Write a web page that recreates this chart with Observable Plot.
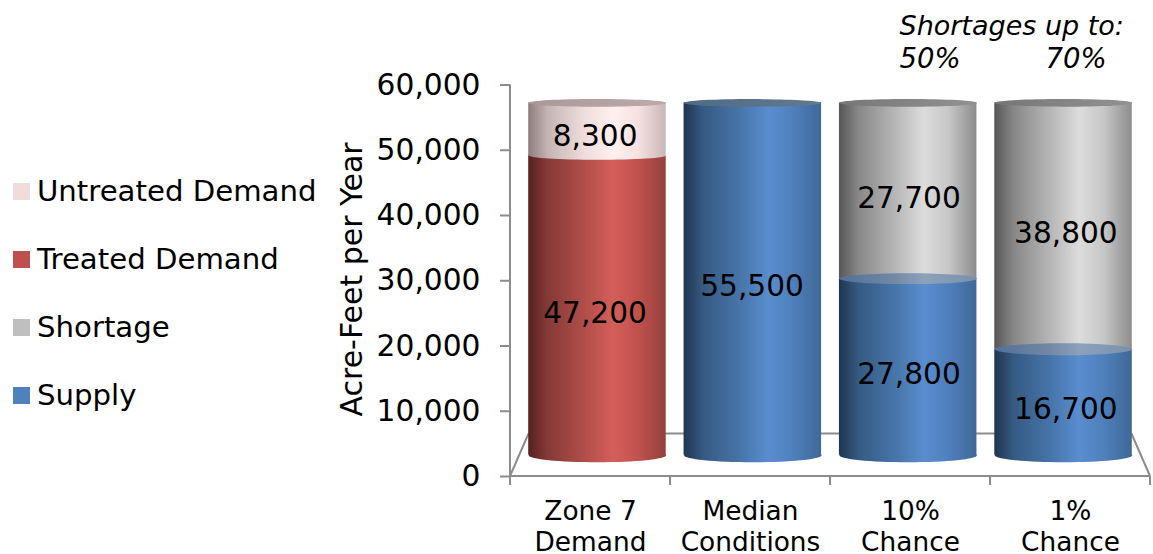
<!DOCTYPE html>
<html>
<head>
<meta charset="utf-8">
<script src="https://cdn.jsdelivr.net/npm/d3@7"></script>
<script src="https://cdn.jsdelivr.net/npm/@observablehq/plot@0.6"></script>
<style>
  html, body { margin: 0; background: #fff; }
  #chart { position: relative; width: 1153px; height: 554px; overflow: hidden;
           font-family: "DejaVu Sans", sans-serif; color: #000; }
  #chart svg { position: absolute; left: 0; top: 0; }
  .legend-row { position: absolute; left: 13px; display: flex; align-items: center;
                font-size: 29.2px; line-height: 34px; height: 34px; white-space: nowrap; }
  .legend-row i { display: block; width: 17px; height: 17px; margin-right: 7px; }
</style>
</head>
<body>
<div id="chart"></div>
<script>
// Water supply reliability, in acre-feet per year
const categories = ["Zone 7\nDemand", "Median\nConditions", "10%\nChance", "1%\nChance"];
const treatedDemand = [47200, 0, 0, 0];
const untreatedDemand = [8300, 0, 0, 0];
const supply = [0, 55500, 27800, 16700];
const shortage = [0, 0, 27700, 38800];
const yTicks = [0, 10000, 20000, 30000, 40000, 50000, 60000];
const shortageShares = [["10%\nChance", "50%"], ["1%\nChance", "70%"]];

const legendItems = [
  ["Untreated Demand", "#f2dcdb"],
  ["Treated Demand", "#c0504d"],
  ["Shortage", "#bfbfbf"],
  ["Supply", "#4f81bd"]
];

const plotWidth = 1153, plotHeight = 554;
const frameLeft = 510, frameRight = 1150, frameTop = 84.5, frameFloor = 476;
const bandPadding = 0.115;
const bandStep = (frameRight - frameLeft) / categories.length;
const halfBar = bandStep * (1 - bandPadding) / 2;

// Stack the segments of each column, lowest first
const seriesOf = [
  ["Treated Demand", treatedDemand],
  ["Supply", supply],
  ["Shortage", shortage],
  ["Untreated Demand", untreatedDemand]
];
const rows = [];
categories.forEach((category, i) => {
  let base = 0;
  const stack = seriesOf.filter(([, values]) => values[i] > 0);
  stack.forEach(([series, values], j) => {
    const value = values[i];
    rows.push({category, series, value, base, top: base + value, last: j === stack.length - 1});
    base += value;
  });
});

const sideFill = {
  "Treated Demand": "url(#treated)",
  "Untreated Demand": "url(#untreated)",
  "Supply": "url(#blue)",
  "Shortage": "url(#gray)"
};
const upperFill = {
  "Treated Demand": "url(#untreated)",
  "Untreated Demand": "url(#untreatedTop)",
  "Supply": "url(#blueLid)",
  "Shortage": "url(#grayTop)"
};
const capFill = (d) => d.last && d.series === "Supply" ? "url(#blueTop)" : upperFill[d.series];

// Gradients for the shaded cylinder sides
const ramps = {
  treated: [[0, "#55211f"], [0.14, "#853a37"], [0.4, "#b04d49"], [0.62, "#d45f5a"], [0.8, "#c0514d"], [1, "#95403d"]],
  untreated: [[0, "#8c7c7c"], [0.14, "#c4b4b4"], [0.4, "#eedcdc"], [0.62, "#fff0ef"], [0.8, "#f5e1e0"], [1, "#c9b6b6"]],
  blue: [[0, "#1e3550"], [0.14, "#365a83"], [0.4, "#4674a8"], [0.62, "#5a8dcf"], [0.8, "#4f7fbb"], [1, "#3e6897"]],
  gray: [[0, "#565656"], [0.14, "#878787"], [0.4, "#b5b5b5"], [0.62, "#dcdcdc"], [0.8, "#c6c6c6"], [1, "#8c8c8c"]],
  blueLid: [[0, "#4f7097"], [0.4, "#7289a6"], [0.62, "#8da1ba"], [1, "#7990ab"]],
  blueTop: [[0, "#4f6a88"], [1, "#64798f"]],
  grayTop: [[0, "#767676"], [1, "#929292"]],
  untreatedTop: [[0, "#ab9898"], [1, "#bcaaaa"]]
};
const svgNS = "http://www.w3.org/2000/svg";
const defsMark = () => {
  const defs = document.createElementNS(svgNS, "defs");
  for (const [id, stops] of Object.entries(ramps)) {
    const g = document.createElementNS(svgNS, "linearGradient");
    g.setAttribute("id", id);
    for (const [offset, color] of stops) {
      const s = document.createElementNS(svgNS, "stop");
      s.setAttribute("offset", offset);
      s.setAttribute("stop-color", color);
      g.appendChild(s);
    }
    defs.appendChild(g);
  }
  return defs;
};

// Perspective: plane at a given depth, 0 at the front of the floor and 1 at its back
const depthRise = 42.5, shrinkX = 0.058, shrinkY = 0.054;
const centreX = (frameLeft + frameRight) / 2;
const planeTransform = (zx, zy) => {
  const sx = 1 - shrinkX * zx, sy = 1 - shrinkY * zy;
  return `translate(${centreX} ${frameFloor - depthRise * zy}) scale(${sx} ${sy}) translate(${-centreX} ${-frameFloor})`;
};
const inPlane = (zx, zy = zx) => (index, scales, values, dimensions, context, next) => {
  const inner = next(index, scales, values, dimensions, context);
  const g = document.createElementNS(svgNS, "g");
  g.setAttribute("transform", planeTransform(zx, zy));
  g.appendChild(inner);
  return g;
};

// Elliptical symbol for the round ends of the cylinders
const ellipse = (rx, ry) => ({
  draw(ctx) {
    const k = 0.5523;
    ctx.moveTo(-rx, 0);
    ctx.bezierCurveTo(-rx, -ry * k, -rx * k, -ry, 0, -ry);
    ctx.bezierCurveTo(rx * k, -ry, rx, -ry * k, rx, 0);
    ctx.bezierCurveTo(rx, ry * k, rx * k, ry, 0, ry);
    ctx.bezierCurveTo(-rx * k, ry, -rx, ry * k, -rx, 0);
    ctx.closePath();
  }
});
const lidRadius = (v) => 7.2 - v * 0.00006;
const endDot = (row, y, fill) => Plot.dot([row], {
  x: "category", y, r: 1, fill, stroke: "none",
  symbol: ellipse(halfBar, lidRadius(row[y])),
  render: inPlane(0.5)
});

// Floor outline, value axis line and category tick marks
const frameMark = (index, {x, y}) => {
  const g = document.createElementNS(svgNS, "g");
  g.setAttribute("fill", "none");
  g.setAttribute("stroke", "#8c8c8c");
  g.setAttribute("stroke-width", "2");
  const y0 = y(0), back = y0 - depthRise, sx = 1 - shrinkX;
  const bl = centreX + (frameLeft - centreX) * sx, br = centreX + (frameRight - centreX) * sx;
  const edges = [`M${frameLeft},${y0}L${frameRight},${y0}`, `M${bl},${back}L${br},${back}`,
                 `M${frameLeft},${y0}L${bl},${back}`, `M${frameRight},${y0}L${br},${back}`,
                 `M${frameLeft},${y0}L${frameLeft},${y(60000)}`];
  const step = x.bandwidth();
  [...x.domain().map((c) => x(c)), x(categories[categories.length - 1]) + step].forEach((px) => {
    edges.push(`M${px},${y0}L${px},${y0 + 9}`);
  });
  const p = document.createElementNS(svgNS, "path");
  p.setAttribute("d", edges.join(""));
  g.appendChild(p);
  return g;
};

const plot = Plot.plot({
  width: plotWidth, height: plotHeight,
  marginLeft: frameLeft, marginRight: plotWidth - frameRight,
  marginTop: frameTop, marginBottom: plotHeight - frameFloor,
  style: {fontFamily: '"DejaVu Sans", sans-serif', background: "transparent", color: "#000"},
  x: {type: "band", domain: categories, padding: 0, axis: null},
  y: {domain: [0, 60000], axis: null},
  marks: [
    defsMark,
    frameMark,
    Plot.axisY({
      ticks: yTicks, tickFormat: d3.format(","), tickSize: 10, tickPadding: 20,
      stroke: "#8c8c8c", strokeWidth: 2, fill: "#000", fontSize: 29.7, label: null
    }),
    Plot.text(["Acre-Feet per Year"], {
      frameAnchor: "left", dx: -158, y: 30200, rotate: -90, textAnchor: "middle",
      fontSize: 30, text: (d) => d, fill: "#000"
    }),
    // Rounded undersides, then the column sides
    ...rows.filter((d) => d.base === 0).map((d) => Plot.dot([d], {
      x: "category", y: "base", r: 1, stroke: "none", fill: sideFill[d.series],
      symbol: ellipse(halfBar, lidRadius(0)), render: inPlane(0.5)
    })),
    ...rows.map((d) => Plot.barY([d], {
      x: "category", y1: "base", y2: "top", fill: sideFill[d.series],
      insetLeft: bandPadding * bandStep / 2, insetRight: bandPadding * bandStep / 2, render: inPlane(0.5)
    })),
    // Lids where one segment meets the next, and at the column tops
    ...rows.map((d) => endDot(d, "top", capFill(d))),
    Plot.text(rows, {
      x: "category", y: (d) => (d.base + d.top) / 2, dy: 8,
      text: (d) => d3.format(",")(d.value), fontSize: 30.2, fill: "#000", render: inPlane(0.33, 0.5)
    }),
    // Category labels beneath the floor
    Plot.text(categories, {
      x: (d) => d, y: 0, dy: 20.5, lineAnchor: "top", lineHeight: 1.2,
      text: (d) => d, fontSize: 26.4, fill: "#000"
    }),
    // Note above the two dry-year columns
    Plot.text(["Shortages up to:"], {
      x: () => categories[2], y: 0, dy: -450, dx: -11, textAnchor: "start",
      text: (d) => d, fontSize: 27, fontStyle: "italic", fill: "#000"
    }),
    Plot.text(shortageShares.slice(0, 1), {
      x: (d) => d[0], y: 0, dy: -417, dx: -11, textAnchor: "start",
      text: (d) => d[1], fontSize: 27.5, fontStyle: "italic", fill: "#000"
    }),
    Plot.text(shortageShares.slice(1), {
      x: (d) => d[0], y: 0, dy: -417, dx: -25, textAnchor: "start",
      text: (d) => d[1], fontSize: 27.5, fontStyle: "italic", fill: "#000"
    })
  ]
});

const chart = document.getElementById("chart");
chart.appendChild(plot);

// Legend beside the chart
legendItems.forEach(([label, color], i) => {
  const row = document.createElement("div");
  row.className = "legend-row";
  row.style.top = `${174 + i * 68}px`;
  const swatch = document.createElement("i");
  swatch.style.background = color;
  row.appendChild(swatch);
  row.appendChild(document.createTextNode(label));
  chart.appendChild(row);
});
</script>
</body>
</html>
